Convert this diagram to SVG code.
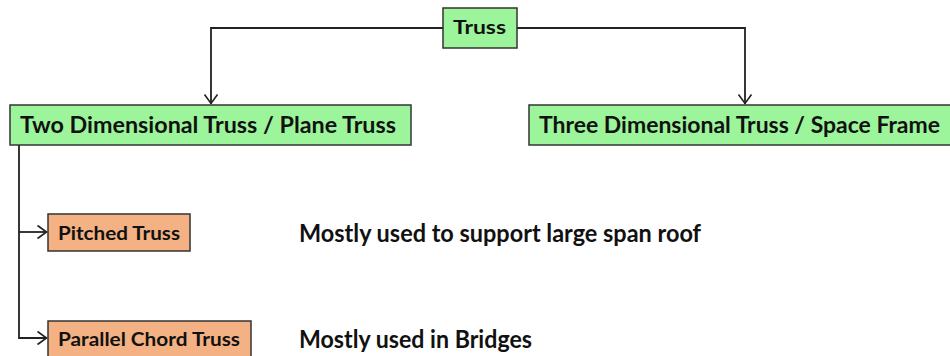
<svg xmlns="http://www.w3.org/2000/svg" width="950" height="356" viewBox="0 0 950 356">
<defs>
<marker id="arr" viewBox="0 0 12 16" refX="10.5" refY="8" markerWidth="12" markerHeight="16" markerUnits="userSpaceOnUse" orient="auto">
<path d="M1,1.5 L10,8 L1,14.5" fill="none" stroke="#222" stroke-width="1.6"/>
</marker>
</defs>
<style>
.green{fill:#9cf59a;stroke:#333;stroke-width:1.5}
.orange{fill:#f4b183;stroke:#333;stroke-width:1.5}
.lbl{font-family:Lato,"Open Sans","Liberation Sans",sans-serif;font-weight:700;fill:#111}
.conn{fill:none;stroke:#222;stroke-width:1.8}
</style>
<rect width="950" height="356" fill="#fff"/>
<g id="connectors">
<path class="conn" d="M443,28 H211 V104" marker-end="url(#arr)"/>
<path class="conn" d="M517,28 H745 V104" marker-end="url(#arr)"/>
<path class="conn" d="M19,145 V338 H47" marker-end="url(#arr)"/>
<path class="conn" d="M19,232 H47" marker-end="url(#arr)"/>
</g>
<g id="truss">
<rect class="green" x="443" y="8" width="74" height="40"/>
<text class="lbl" x="453" y="34" font-size="19.5" textLength="53" lengthAdjust="spacingAndGlyphs">Truss</text>
</g>
<g id="two-dimensional">
<rect class="green" x="10" y="105" width="401" height="40"/>
<text class="lbl" x="20" y="132.5" font-size="22.5" textLength="376" lengthAdjust="spacingAndGlyphs">Two Dimensional Truss / Plane Truss</text>
</g>
<g id="three-dimensional">
<rect class="green" x="529" y="105" width="425" height="40"/>
<text class="lbl" x="539" y="132.5" font-size="22.5" textLength="401" lengthAdjust="spacingAndGlyphs">Three Dimensional Truss / Space Frame</text>
</g>
<g id="pitched">
<rect class="orange" x="48" y="214" width="142" height="37"/>
<text class="lbl" x="58" y="239.5" font-size="19" textLength="122" lengthAdjust="spacingAndGlyphs">Pitched Truss</text>
</g>
<g id="parallel">
<rect class="orange" x="48" y="321" width="203" height="40"/>
<text class="lbl" x="58" y="345.5" font-size="19" textLength="182" lengthAdjust="spacingAndGlyphs">Parallel Chord Truss</text>
</g>
<g id="desc-pitched">
<text class="lbl" x="299" y="241.5" font-size="25" textLength="402" lengthAdjust="spacingAndGlyphs">Mostly used to support large span roof</text>
</g>
<g id="desc-parallel">
<text class="lbl" x="299" y="347.5" font-size="25" textLength="233" lengthAdjust="spacingAndGlyphs">Mostly used in Bridges</text>
</g>
</svg>
